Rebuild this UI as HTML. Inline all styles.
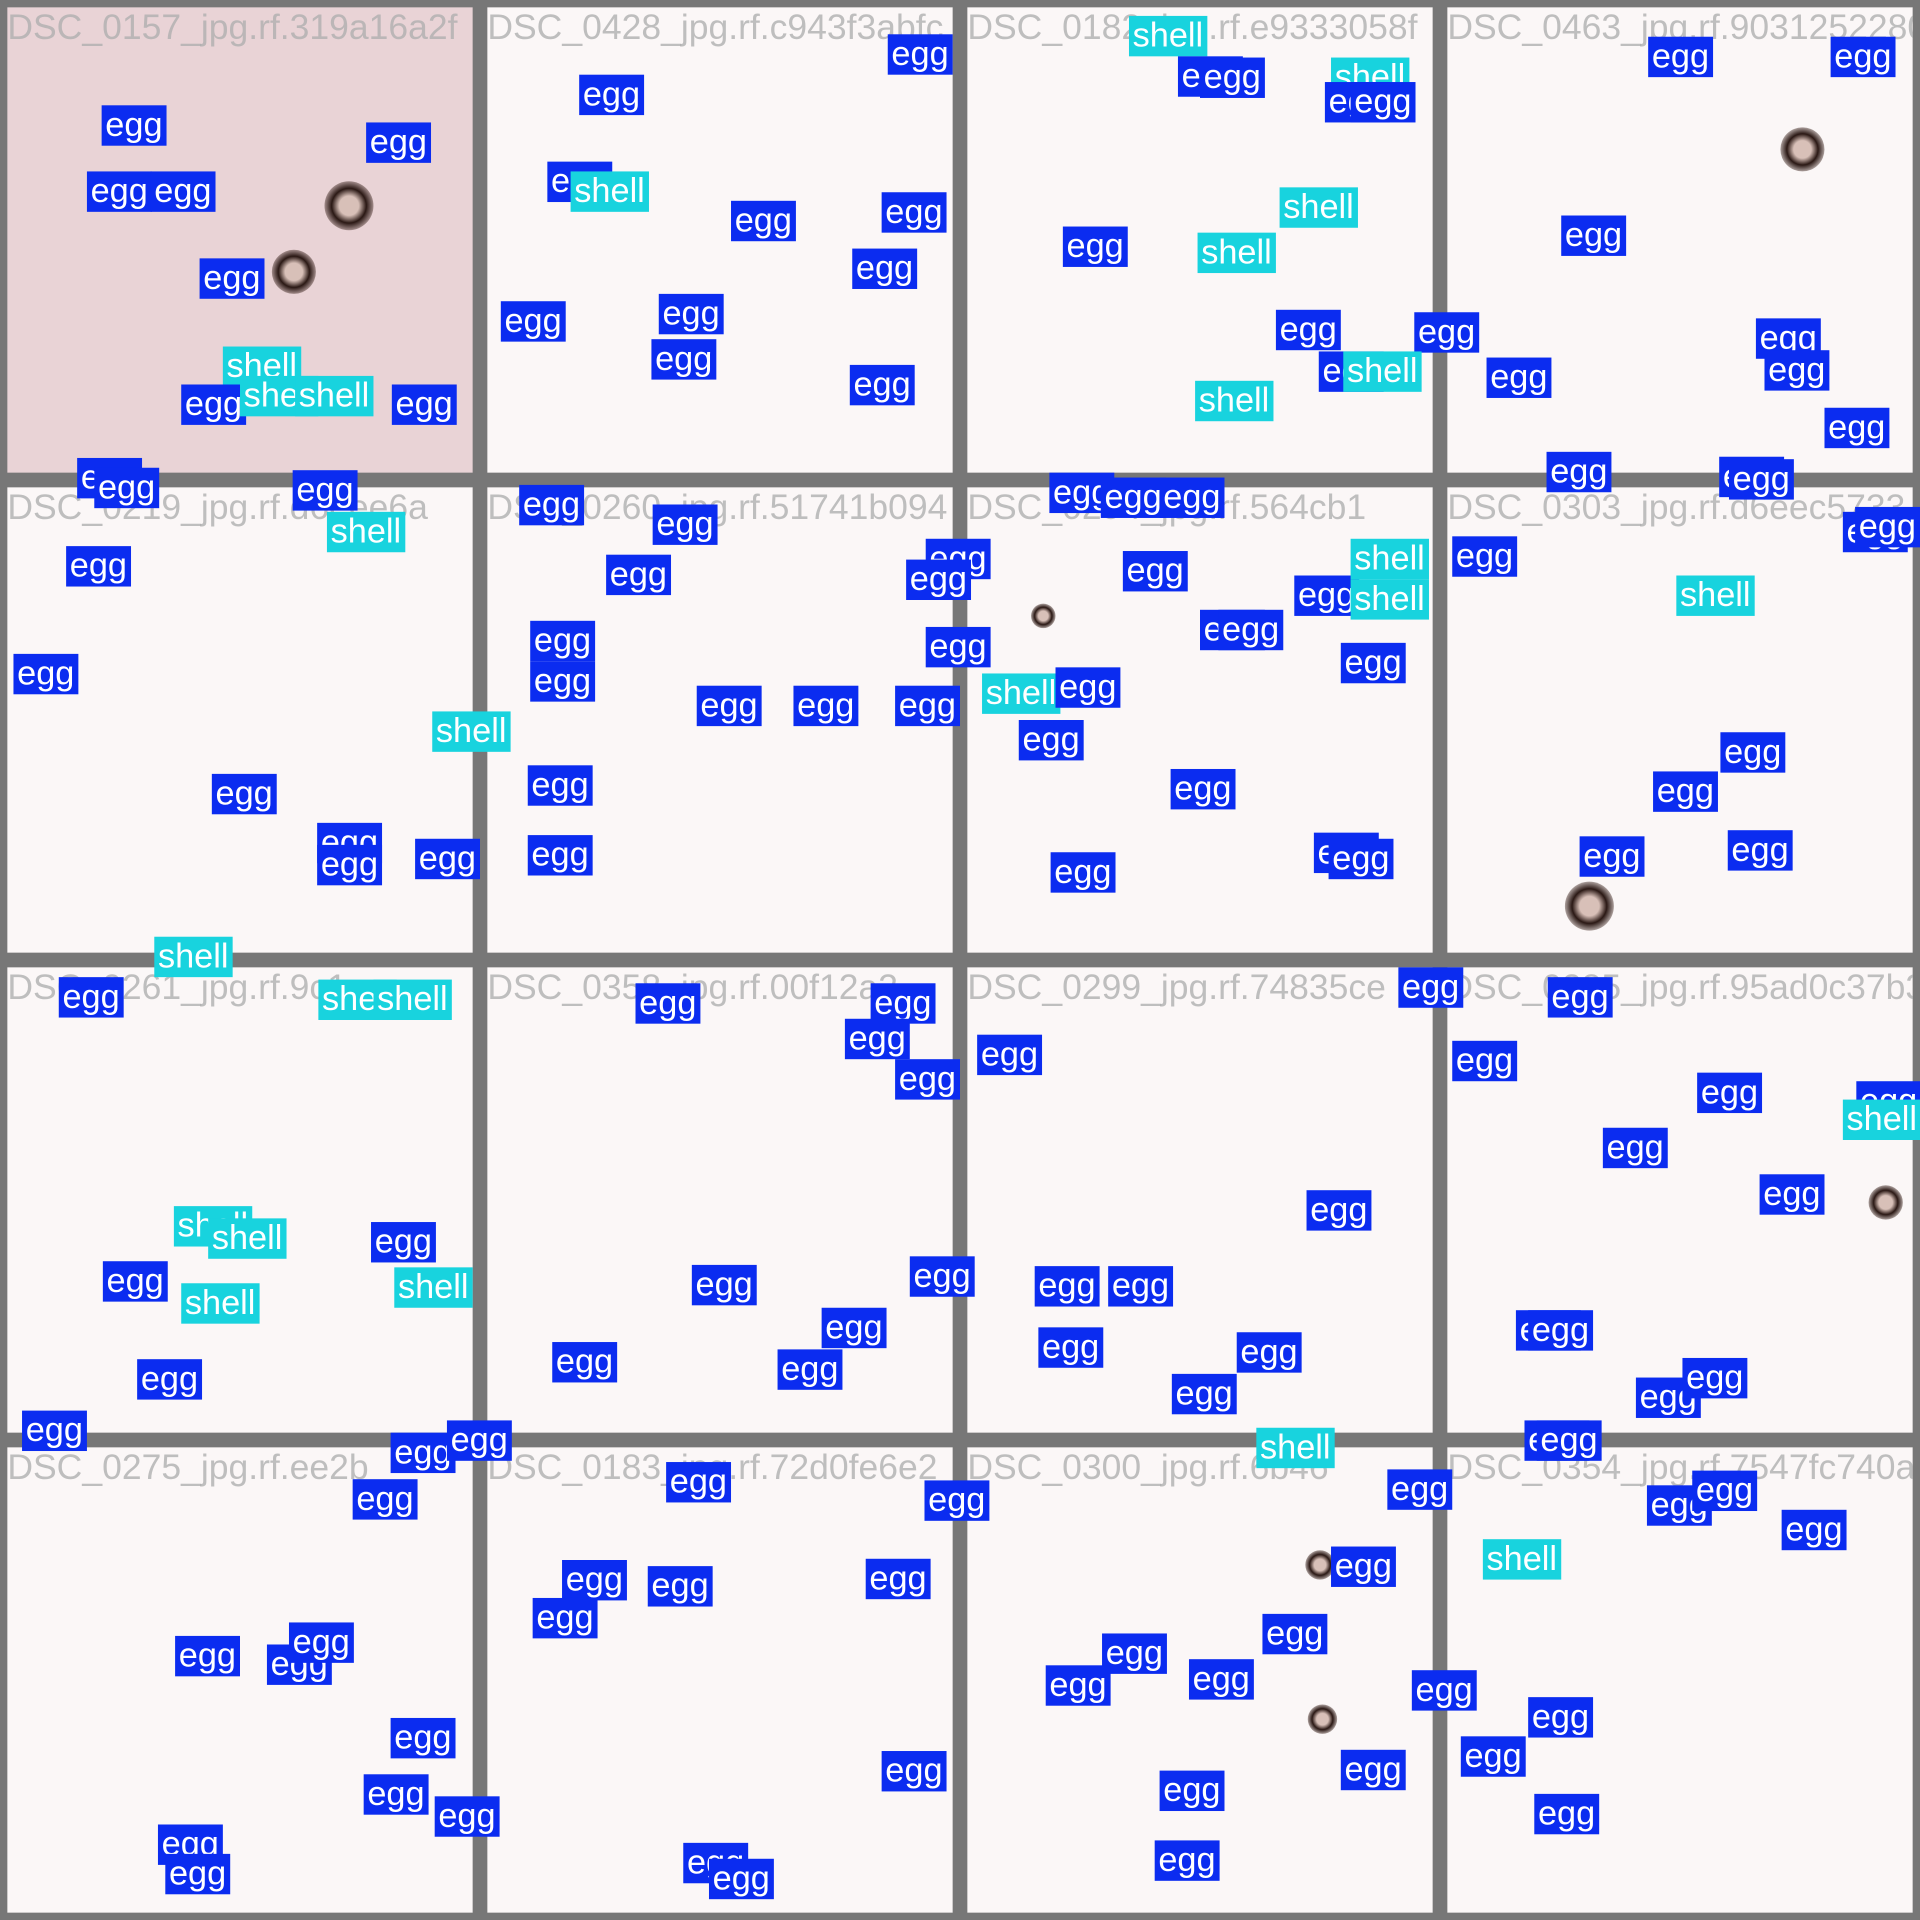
<!DOCTYPE html>
<html>
<head>
<meta charset="utf-8">
<style>
html,body{margin:0;padding:0;background:#777;}
#root{position:absolute;left:0;top:0;width:1568px;height:1568px;transform:scale(1.2244898);transform-origin:0 0;overflow:hidden;background:#777;}
.tile{position:absolute;width:380px;height:380px;background:#fbf7f7;overflow:hidden;box-sizing:border-box;}
.fname{position:absolute;left:0;top:0;font:29px "Liberation Sans",sans-serif;color:rgba(175,175,175,0.8);white-space:nowrap;line-height:34px;}
.lbl{position:absolute;height:33px;padding:0 3px;font:28px "Liberation Sans",sans-serif;color:#fff;line-height:32px;white-space:nowrap;}
.egg{background:#0b2cf0;}
.shell{background:#18d3de;}
.blob{position:absolute;border-radius:50%;}
</style>
</head>
<body>
<div id="root"></div>
<script>
const tileNames = [
"DSC_0157_jpg.rf.319a16a2f","DSC_0428_jpg.rf.c943f3abfc","DSC_0182_jpg.rf.e9333058f","DSC_0463_jpg.rf.90312522808",
"DSC_0219_jpg.rf.d6eee6a","DSC_0260_jpg.rf.51741b094","DSC_0294_jpg.rf.564cb1","DSC_0303_jpg.rf.d6eec5733",
"DSC_0261_jpg.rf.9c1","DSC_0358_jpg.rf.00f12a3","DSC_0299_jpg.rf.74835ce","DSC_0285_jpg.rf.95ad0c37b3e",
"DSC_0275_jpg.rf.ee2b","DSC_0183_jpg.rf.72d0fe6e2","DSC_0300_jpg.rf.6b46","DSC_0354_jpg.rf.7547fc740a5"
];
const labelX = [83,299,71,123,163,182,148,196,241,320,63,77,
725,473,447,466,597,720,696,409,538,532,694,
922,962,980,1087,1082,1103,1045,868,978,1042,1155,1077,1097,976,
1346,1495,1275,1434,1441,1214,1490,1263,1404,1412,
239,267,54,11,353,173,259,259,339,
424,533,495,433,433,756,740,756,569,648,731,431,431,
857,899,947,917,1057,1103,1103,980,995,1095,802,862,832,956,858,1073,1085,
1186,1505,1515,1369,1405,1350,1290,1411,
48,260,305,142,170,303,84,322,148,112,18,126,
519,711,690,731,565,743,671,635,451,
1142,798,1067,845,905,848,1010,957,
1264,1186,1386,1309,1516,1505,1437,1238,1248,1336,1374,
319,365,288,143,218,236,319,297,355,129,135,
544,755,459,529,435,707,720,558,579,
1026,1133,1087,1031,900,854,971,1153,1095,947,943,
1245,1255,1345,1382,1211,1455,1248,1193,1253];
const labelY = [86,100,140,140,211,283,314,307,307,314,374,382,
28,61,132,140,164,157,203,246,240,277,298,
13,46,47,47,67,67,153,185,190,253,255,287,287,311,
30,30,176,260,286,292,333,369,373,375,
384,418,446,534,581,632,672,690,685,
396,412,453,507,540,440,457,512,560,560,560,625,682,
386,390,390,450,470,440,473,498,498,525,550,545,588,628,696,680,685,
438,418,414,470,598,630,683,678,
798,800,800,985,995,998,1030,1035,1048,1110,1152,765,
803,803,832,865,1033,1026,1068,1102,1096,
790,845,972,1034,1034,1084,1088,1122,
798,850,876,921,883,898,959,1070,1070,1125,1109,
1170,1160,1208,1336,1343,1325,1403,1449,1467,1490,1514,
1194,1209,1274,1279,1305,1273,1430,1505,1518,
1166,1200,1263,1318,1334,1360,1355,1364,1429,1446,1503,
1160,1160,1213,1201,1257,1233,1386,1418,1465];
const labelClass = ["e","e","e","e","e","s","e","s","s","e","e","e",
"e","e","e","s","e","e","e","e","e","e","e",
"s","e","e","s","e","e","s","e","s","e","e","e","s","s",
"e","e","e","e","e","e","e","e","e","e",
"e","s","e","e","s","e","e","e","e",
"e","e","e","e","e","e","e","e","e","e","e","e","e",
"e","e","e","e","e","s","s","e","e","e","s","e","e","e","e","e","e",
"e","e","e","s","e","e","e","e",
"e","s","s","s","s","e","e","s","s","e","e","s",
"e","e","e","e","e","e","e","e","e",
"e","e","e","e","e","e","e","e",
"e","e","e","e","e","s","e","e","e","e","e",
"e","e","e","e","e","e","e","e","e","e","e",
"e","e","e","e","e","e","e","e","e",
"s","e","e","e","e","e","e","e","e","e","e",
"e","e","e","e","s","e","e","e","e"];
const blobX=[285,240,1472,1298,1540,1078,1080,852];
const blobY=[168,222,122,740,982,1278,1404,503];
const blobR=[20,18,18,20,14,12,12,10];

const root=document.getElementById('root');
for(let r=0;r<4;r++)for(let c=0;c<4;c++){
  const t=document.createElement('div');
  t.className='tile';
  
  
  t.style.left=(c*392+6)+'px';t.style.top=(r*392+6)+'px';
  if(r===0&&c===0)t.style.background='#e9d3d6';
  const f=document.createElement('div');
  f.className='fname';
  
  
  f.textContent=tileNames[r*4+c];
  t.appendChild(f);
  root.appendChild(t);
}
for(let i=0;i<blobX.length;i++){
  const b=document.createElement('div');
  b.className='blob';
  
  
  b.style.left=(blobX[i]-blobR[i])+'px';b.style.top=(blobY[i]-blobR[i])+'px';
  b.style.width=b.style.height=(2*blobR[i])+'px';
  b.style.background='radial-gradient(circle,#d8c0b8 28%,#2a1814 50%,rgba(120,90,80,0.25) 78%)';
  root.appendChild(b);
}
for(let i=0;i<labelX.length;i++){
  const l=document.createElement('div');
  const isEgg=labelClass[i]==='e';
  l.className='lbl '+(isEgg?'egg':'shell');
  
  
  l.style.left=labelX[i]+'px';l.style.top=labelY[i]+'px';
  l.textContent=isEgg?'egg':'shell';
  root.appendChild(l);
}
</script>
</body>
</html>
